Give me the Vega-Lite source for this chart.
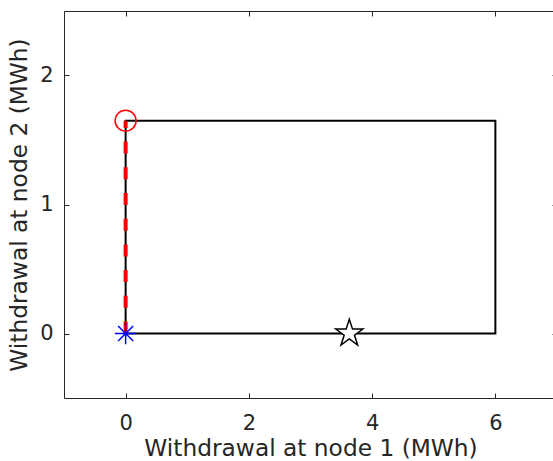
{
  "$schema": "https://vega.github.io/schema/vega-lite/v6.json",
  "autosize": "none",
  "width": 493,
  "height": 387,
  "padding": {"left": 64, "top": 11, "right": 0, "bottom": 63},
  "background": "white",
  "config": {
    "view": {"stroke": null},
    "font": "DejaVu Sans",
    "axis": {
      "domainColor": "#262626",
      "domainWidth": 1,
      "tickColor": "#262626",
      "tickWidth": 1,
      "tickSize": -5,
      "grid": false,
      "labelColor": "#262626",
      "titleColor": "#262626",
      "labelFont": "DejaVu Sans",
      "titleFont": "DejaVu Sans",
      "labelFontSize": 21,
      "titleFontSize": 23.3,
      "titleFontWeight": "normal"
    }
  },
  "datasets": {
    "box": [
      {"x": 0, "y": 0, "o": 1},
      {"x": 6, "y": 0, "o": 2},
      {"x": 6, "y": 1.65, "o": 3},
      {"x": 0, "y": 1.65, "o": 4},
      {"x": 0, "y": 0, "o": 5}
    ],
    "dash": [
      {"x": 0, "y": 0, "o": 1},
      {"x": 0, "y": 1.65, "o": 2}
    ],
    "pts": [
      {"x": 0, "y": 1.65, "m": "circle"},
      {"x": 0, "y": 0, "m": "asterisk"},
      {"x": 3.63, "y": 0, "m": "star"}
    ]
  },
  "resolve": {"axis": {"x": "independent", "y": "independent"}},
  "layer": [
    {
      "data": {"name": "box"},
      "mark": {"type": "line", "color": "black", "strokeWidth": 2, "clip": true},
      "encoding": {
        "x": {"field": "x", "type": "quantitative", "scale": {"domain": [-1, 7], "nice": false, "zero": false},
          "axis": {"orient": "bottom", "values": [0, 2, 4, 6], "title": "Withdrawal at node 1 (MWh)", "labelPadding": 19, "titlePadding": 4}},
        "y": {"field": "y", "type": "quantitative", "scale": {"domain": [-0.5, 2.5], "nice": false, "zero": false},
          "axis": {"orient": "left", "values": [0, 1, 2], "title": "Withdrawal at node 2 (MWh)", "labelPadding": 16, "titlePadding": 8}},
        "order": {"field": "o"}
      }
    },
    {
      "data": {"name": "dash"},
      "mark": {"type": "line", "color": "#ff0000", "strokeWidth": 4, "strokeDash": [12, 13.7], "clip": true},
      "encoding": {
        "x": {"field": "x", "type": "quantitative",
          "axis": {"orient": "top", "values": [0, 2, 4, 6], "labels": false, "title": null}},
        "y": {"field": "y", "type": "quantitative",
          "axis": {"orient": "right", "values": [0, 1, 2], "labels": false, "title": null}},
        "order": {"field": "o"}
      }
    },
    {
      "data": {"name": "pts"},
      "transform": [{"filter": "datum.m == 'circle'"}],
      "mark": {"type": "point", "shape": "circle", "size": 440, "filled": false, "stroke": "#ff0000", "strokeWidth": 1.5, "opacity": 1},
      "encoding": {
        "x": {"field": "x", "type": "quantitative", "axis": null},
        "y": {"field": "y", "type": "quantitative", "axis": null}
      }
    },
    {
      "data": {"name": "pts"},
      "transform": [{"filter": "datum.m == 'asterisk'"}],
      "mark": {"type": "point", "shape": "M-1,0L1,0M0,-1L0,1M-0.7,-0.7L0.7,0.7M-0.7,0.7L0.7,-0.7", "size": 460, "filled": false, "stroke": "#0000ff", "strokeWidth": 1.5, "opacity": 1},
      "encoding": {
        "x": {"field": "x", "type": "quantitative", "axis": null},
        "y": {"field": "y", "type": "quantitative", "axis": null}
      }
    },
    {
      "data": {"name": "pts"},
      "transform": [{"filter": "datum.m == 'star'"}],
      "mark": {"type": "point", "shape": "M0,-1L0.2245,-0.309L0.951,-0.309L0.363,0.118L0.588,0.809L0,0.382L-0.588,0.809L-0.363,0.118L-0.951,-0.309L-0.2245,-0.309Z", "size": 808, "filled": true, "fill": "white", "stroke": "black", "strokeWidth": 1.5, "opacity": 1},
      "encoding": {
        "x": {"field": "x", "type": "quantitative", "axis": null},
        "y": {"field": "y", "type": "quantitative", "axis": null}
      }
    }
  ]
}
